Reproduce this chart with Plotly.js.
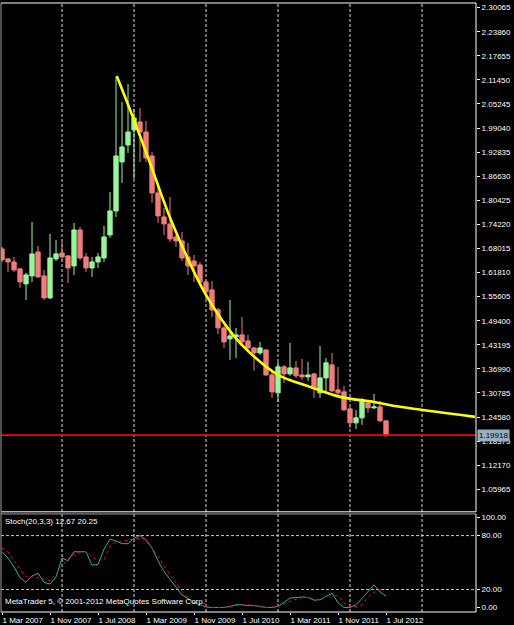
<!DOCTYPE html>
<html><head><meta charset="utf-8">
<script src="https://cdn.plot.ly/plotly-3.0.1.min.js"></script>
<style>html,body{margin:0;padding:0;background:#000;}#chart{width:514px;height:625px;}</style>
</head><body><div id="chart"></div>
<script>
// Monthly bars (EURAUD style), Mar 2007 .. Jul 2012
const months = ["2007-03","2007-04","2007-05","2007-06","2007-07","2007-08","2007-09","2007-10","2007-11","2007-12",
"2008-01","2008-02","2008-03","2008-04","2008-05","2008-06","2008-07","2008-08","2008-09","2008-10","2008-11","2008-12",
"2009-01","2009-02","2009-03","2009-04","2009-05","2009-06","2009-07","2009-08","2009-09","2009-10","2009-11","2009-12",
"2010-01","2010-02","2010-03","2010-04","2010-05","2010-06","2010-07","2010-08","2010-09","2010-10","2010-11","2010-12",
"2011-01","2011-02","2011-03","2011-04","2011-05","2011-06","2011-07","2011-08","2011-09","2011-10","2011-11","2011-12",
"2012-01","2012-02","2012-03","2012-04","2012-05","2012-06","2012-07"];
const openP  = [1.6789,1.6532,1.6454,1.6274,1.5888,1.6094,1.6712,1.6094,1.5527,1.6532,
1.6686,1.6609,1.6351,1.7279,1.6583,1.6300,1.6454,1.6557,1.7150,1.7768,1.9030,1.9468,
1.9855,2.0061,1.9803,1.9185,1.8232,1.7614,1.7433,1.7098,1.6995,1.6583,1.6480,1.6377,
1.5939,1.5733,1.5218,1.4754,1.4471,1.4522,1.4574,1.4419,1.4239,1.4110,1.4187,1.3543,
1.3080,1.3750,1.3569,1.3724,1.3543,1.3492,1.3569,1.3080,1.3466,1.3801,1.3157,1.3106,
1.2668,1.2307,1.2436,1.2822,1.2693,1.2719,1.2359];
const highP  = [1.6840,1.6557,1.6583,1.6300,1.6171,1.7485,1.6867,1.6248,1.7176,1.7021,
1.6970,1.6635,1.7459,1.7356,1.6686,1.6583,1.6686,1.7382,1.8258,2.1220,2.0576,2.1040,
2.0400,2.0421,2.0087,1.9288,1.8489,1.7846,1.8129,1.7150,1.7227,1.6944,1.6635,1.6454,
1.5991,1.5965,1.5270,1.4800,1.5475,1.4754,1.5038,1.4574,1.4265,1.4394,1.4213,1.3647,
1.3878,1.3801,1.4368,1.3904,1.3956,1.3878,1.3595,1.4291,1.3981,1.4110,1.3750,1.3260,
1.2719,1.2642,1.2951,1.2899,1.3054,1.2874,1.2359];
const lowP   = [1.6454,1.6197,1.6197,1.5785,1.5475,1.5939,1.6042,1.5475,1.5501,1.6480,
1.6480,1.5913,1.6120,1.6506,1.6197,1.6068,1.6300,1.6454,1.7073,1.7614,1.8489,1.9262,
1.8593,1.9030,1.9030,1.7974,1.7459,1.7150,1.6970,1.6841,1.6480,1.6120,1.5939,1.5862,
1.5475,1.5038,1.4600,1.4239,1.3930,1.3981,1.4291,1.4187,1.3647,1.4059,1.3518,1.2951,
1.2848,1.3337,1.3518,1.3466,1.3415,1.3389,1.2951,1.2951,1.3080,1.3106,1.3028,1.2616,
1.2178,1.2152,1.2256,1.2565,1.2668,1.2333,1.1946];
const closeP = [1.6506,1.6454,1.6248,1.5939,1.6120,1.6661,1.6068,1.5527,1.6557,1.6661,
1.6583,1.6300,1.7279,1.6557,1.6300,1.6454,1.6583,1.7098,1.7768,1.9185,1.9417,1.9803,
2.0164,1.9803,1.9133,1.8232,1.7640,1.7433,1.7047,1.6995,1.6557,1.6351,1.6351,1.5939,
1.5682,1.5218,1.4754,1.4394,1.4548,1.4574,1.4394,1.4239,1.4110,1.4239,1.3543,1.3106,
1.3750,1.3569,1.3724,1.3518,1.3492,1.3543,1.3209,1.3466,1.3853,1.3131,1.3080,1.2642,
1.2307,1.2436,1.2899,1.2693,1.2719,1.2359,1.19918];

// Stochastic(20,3,3): main %K and signal %D
const stochK = [62,55,45,33,28,35,38,28,26,34,55,52,62,62,62,47,48,65,76,74,71,71,
77,80,75,66,52,40,31,23,14,10,5,3,0.5,0,0,0,1,3,3,2,2.2,1.1,0,0,1.1,5.6,10.4,11,11.6,11.1,8.1,8.5,
12,16,5,0,0,3,9.9,17.4,25.2,17.3,12.67];
const stochD = [66,62,52,42,34,34,33,31,30,37,46,54,59,62,62,56,53,53,68,73,73,75,
76,77,76,67,57,46,37,27,18,11,6,3,1,0,0,0,1,2,3,3,2,1,0,0.5,1,4,7,9,11,11,9,9,
12,13,13,5,1,1,3,11,17,19.3,20.25];

// Yellow trend curve (month offset from Mar 2007, price)
const trendMonth = [19.12,22,24.67,28.28,33.83,38.5,41.33,46,51.33,56.33,61.83,66.33,78.83];
const trendPrice = [2.1246,2.0112,1.9005,1.7492,1.5648,1.4574,1.4110,1.3543,1.3235,1.2977,1.2849,1.2720,1.2462];

const priceTicks = [1.05965,1.12170,1.18375,1.24580,1.30785,1.36990,1.43195,1.49400,1.55605,1.61810,
1.68015,1.74220,1.80425,1.86630,1.92835,1.99040,2.05245,2.11450,2.17655,2.23860,2.30065];
const stochTicks = [0,20,80,100];
const tickMonths = ["2007-03","2007-11","2008-07","2009-03","2009-11","2010-07","2011-03","2011-11","2012-07"];
const tickLabels = ["1 Mar 2007","1 Nov 2007","1 Jul 2008","1 Mar 2009","1 Nov 2009","1 Jul 2010","1 Mar 2011","1 Nov 2011","1 Jul 2012"];
const lastPrice = 1.19918;

const xIdx = months.map((m,i)=>i);
const FONT = "Liberation Sans, Arial, sans-serif";
const xMax = 79.0;

const traces = [
  {type:'candlestick', x:xIdx, open:openP, high:highP, low:lowP, close:closeP,
   xaxis:'x', yaxis:'y', whiskerwidth:0, hoverinfo:'skip',
   increasing:{line:{color:'#98F598', width:1}, fillcolor:'#98F598'},
   decreasing:{line:{color:'#F07C7C', width:1}, fillcolor:'#F07C7C'}},
  {type:'scatter', mode:'lines', x:trendMonth, y:trendPrice, xaxis:'x', yaxis:'y',
   line:{color:'#FFFF00', width:2.6, shape:'spline', smoothing:1}, hoverinfo:'skip'},
  {type:'scatter', mode:'lines', x:xIdx, y:stochK, xaxis:'x', yaxis:'y2',
   line:{color:'#20B2AA', width:1}, hoverinfo:'skip'},
  {type:'scatter', mode:'lines', x:xIdx, y:stochD, xaxis:'x', yaxis:'y2',
   line:{color:'#FF0000', width:1, dash:'dot'}, hoverinfo:'skip'}
];

const shapes = [];
// yearly vertical grid (January)
for (let g = months.indexOf("2008-01"); g < xMax; g += 12) {
  shapes.push({type:'line', xref:'x', yref:'paper', x0:g, x1:g, y0:0, y1:1,
    line:{color:'#d8d8d8', width:1, dash:'3px,2px'}, layer:'below'});
}
// stoch level lines
[20,80].forEach(v=>shapes.push({type:'line', xref:'paper', yref:'y2', x0:0, x1:1, y0:v, y1:v,
  line:{color:'#c8c8c8', width:1, dash:'3px,2px'}, layer:'below'}));
// current price line
shapes.push({type:'line', xref:'paper', yref:'y', x0:0, x1:1, y0:lastPrice, y1:lastPrice,
  line:{color:'#FF0000', width:1.6}});
// panel borders
const mainBot = 0.1645, stochTop = 0.161;
const W = '#ffffff', G = '#a0a0a0';
shapes.push({type:'line', xref:'paper', yref:'paper', x0:0, x1:1, y0:1, y1:1, line:{color:W,width:1}});
shapes.push({type:'line', xref:'paper', yref:'paper', x0:1, x1:1, y0:mainBot, y1:1, line:{color:W,width:1}});
shapes.push({type:'line', xref:'paper', yref:'paper', x0:0, x1:1, y0:mainBot, y1:mainBot, line:{color:W,width:1}});
shapes.push({type:'line', xref:'paper', yref:'paper', x0:0, x1:0, y0:0, y1:1, line:{color:G,width:1}});
shapes.push({type:'line', xref:'paper', yref:'paper', x0:0, x1:1, y0:stochTop, y1:stochTop, line:{color:G,width:1}});
shapes.push({type:'line', xref:'paper', yref:'paper', x0:1, x1:1, y0:0, y1:stochTop, line:{color:W,width:1}});
shapes.push({type:'line', xref:'paper', yref:'paper', x0:0, x1:1, y0:0, y1:0, line:{color:W,width:1}});

const annotations = [
  {xref:'paper', yref:'y', x:1, y:lastPrice, xanchor:'left', yanchor:'middle', xshift:1,
   text:lastPrice.toFixed(5), showarrow:false, bgcolor:'#9aaec2', borderpad:1,
   font:{family:FONT, size:8, color:'#000'}},
  {xref:'paper', yref:'paper', x:0, y:stochTop, xanchor:'left', yanchor:'top', xshift:2, yshift:-1,
   text:'Stoch(20,3,3) ' + stochK[stochK.length-1].toFixed(2) + ' ' + stochD[stochD.length-1].toFixed(2),
   showarrow:false, font:{family:FONT, size:8, color:'#ffffff'}},
  {xref:'paper', yref:'paper', x:0, y:0, xanchor:'left', yanchor:'bottom', xshift:2, yshift:4,
   text:'MetaTrader 5, © 2001-2012 MetaQuotes Software Corp.',
   showarrow:false, font:{family:FONT, size:8, color:'#ffffff'}}
];

const layout = {
  width:514, height:625, paper_bgcolor:'#000', plot_bgcolor:'#000',
  margin:{l:1, r:38, t:3, b:13}, showlegend:false, boxgap:0.2, boxgroupgap:0.1,
  font:{family:FONT, size:8, color:'#ffffff'},
  xaxis:{type:'linear', range:[-0.17, xMax], anchor:'y2', showgrid:false, zeroline:false,
    tickmode:'array', tickvals:tickMonths.map(m=>months.indexOf(m)), ticktext:tickLabels,
    ticks:'outside', ticklen:2, tickcolor:'#ffffff', ticklabelposition:'outside right', tickangle:0,
    ticklabelstandoff:0,
    tickfont:{family:FONT, size:8, color:'#ffffff'}, rangeslider:{visible:false},
    automargin:false, showline:false, fixedrange:true},
  yaxis:{domain:[mainBot,1], range:[1.0015, 2.3126], side:'right', showgrid:false, zeroline:false,
    tickmode:'array', tickvals:priceTicks, ticktext:priceTicks.map(v=>v.toFixed(5)),
    ticks:'outside', ticklen:3, tickcolor:'#ffffff',
    tickfont:{family:FONT, size:8, color:'#ffffff'}, automargin:false, showline:false},
  yaxis2:{domain:[0,stochTop], range:[-5.1,104.1], side:'right', showgrid:false, zeroline:false,
    tickmode:'array', tickvals:stochTicks, ticktext:stochTicks.map(v=>v.toFixed(2)),
    ticks:'outside', ticklen:3, tickcolor:'#ffffff',
    tickfont:{family:FONT, size:8, color:'#ffffff'}, automargin:false, showline:false},
  shapes:shapes, annotations:annotations
};
Plotly.newPlot('chart', traces, layout, {staticPlot:true, displayModeBar:false});
</script></body></html>
